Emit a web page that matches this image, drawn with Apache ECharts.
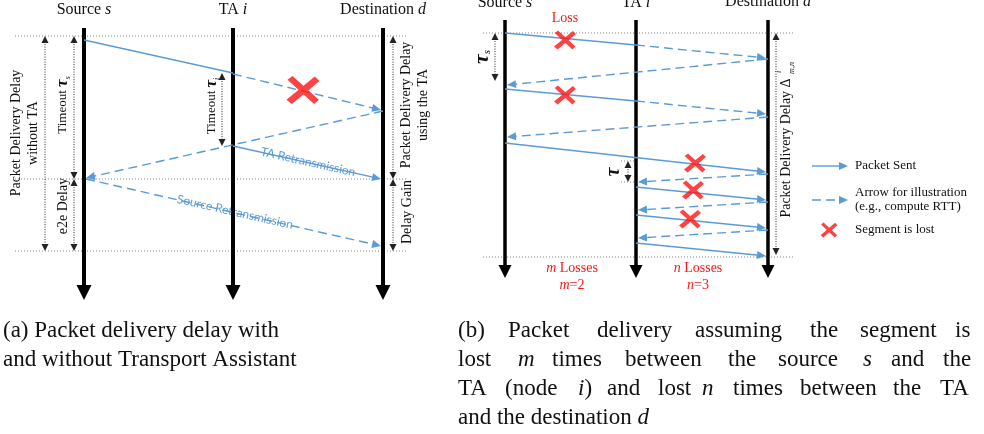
<!DOCTYPE html>
<html>
<head>
<meta charset="utf-8">
<script src="https://cdn.jsdelivr.net/npm/echarts@6.0.0/dist/echarts.min.js"></script>
<style>
  html, body { margin: 0; padding: 0; background: #fff; }
  #chart { width: 984px; height: 434px; }
</style>
</head>
<body>
<div id="chart"></div>
<script>
// 横轴 = 节点位置, 纵轴 = 时间 (向下增加), 单位与像素一致
// 节点时间线 [x, 起点t, x, 终点t]
const lifelinesA = [[84, 28, 84, 300], [233, 28, 233, 300], [383, 28, 383, 300]];
const lifelinesB = [[505, 20, 505, 278], [636, 20, 636, 278], [768, 20, 768, 278]];
// 实线发送段 (无箭头)
const sentSegments = [[84, 40, 233, 73], [505, 33, 636, 45], [505, 89, 636, 101]];
// 实线发送 (带箭头)
const sentArrows = [
  [233, 146, 381, 179],
  [505, 143, 766, 172], [636, 187, 766, 200], [636, 215, 766, 228], [636, 243, 766, 256],
  [812, 166, 848, 166]
];
// 虚线示意 (带箭头)
const dashArrows = [
  [233, 74, 381, 110], [383, 111, 86, 178], [86, 179, 381, 246],
  [636, 45, 766, 58], [768, 59, 507, 85], [636, 101, 766, 114], [768, 117, 507, 137],
  [768, 174, 638, 182], [768, 202, 638, 210], [768, 230, 638, 238],
  [812, 200, 848, 200]
];
// 点线参考线
const guideLines = [
  [15, 36, 408, 36], [15, 179, 408, 179], [15, 251, 408, 251],
  [483, 33, 793, 33], [483, 257, 793, 257], [621, 161, 636, 161], [621, 182, 636, 182]
];
// 双向箭头 (时间跨度)
const spans = [
  [45, 36, 45, 251], [74, 36, 74, 179], [74, 179, 74, 251], [222, 73, 222, 146],
  [393, 36, 393, 179], [393, 179, 393, 251],
  [495, 33, 495, 81], [628, 161, 628, 182], [776, 33, 776, 255]
];
// 丢包标记
const lossBig = [[303, 90]];
const lossSmall = [[565, 40], [565, 95], [695, 163], [693, 190], [690, 219]];
const lossKey = [[829, 230]];

const SERIF = 'Liberation Serif';
const BLUE = '#5b9bd5';
const RED = '#ff1414';
const CROSS = 'path://M5,12 L20,0 L98,76 L84,90 Z M86,2 L100,16 L18,90 L2,76 Z';

function arrowSeries(data, o) {
  return {
    type: 'custom', data: data, silent: true, animation: false,
    renderItem: function (params, api) {
      const a = api.coord([api.value(0), api.value(1)]);
      const b = api.coord([api.value(2), api.value(3)]);
      const dx = b[0] - a[0], dy = b[1] - a[1];
      const len = Math.hypot(dx, dy), ux = dx / len, uy = dy / len;
      const kids = [];
      let s = a, e = b;
      const head = (tip, vx, vy) => {
        const bx = tip[0] - vx * o.L, by = tip[1] - vy * o.L;
        return { type: 'polygon', shape: { points: [tip, [bx - vy * o.W, by + vx * o.W], [bx + vy * o.W, by - vx * o.W]] }, style: { fill: o.color } };
      };
      if (o.heads >= 1) { kids.push(head(b, ux, uy)); e = [b[0] - ux * o.L * 0.8, b[1] - uy * o.L * 0.8]; }
      if (o.heads === 2) { kids.push(head(a, -ux, -uy)); s = [a[0] + ux * o.L * 0.8, a[1] + uy * o.L * 0.8]; }
      kids.unshift({ type: 'line', shape: { x1: s[0], y1: s[1], x2: e[0], y2: e[1] },
        style: { stroke: o.color, lineWidth: o.width, lineDash: o.dash || null } });
      return { type: 'group', children: kids };
    }
  };
}

function crossSeries(data, size) {
  return { type: 'scatter', data: data, symbol: CROSS, symbolSize: size, silent: true, animation: false,
    itemStyle: { color: RED } };
}

// 文本
function rich(size, fam, color) {
  const c = color || '#111';
  return {
    n: { fontFamily: fam, fontSize: size, fill: c },
    i: { fontFamily: fam, fontSize: size, fontStyle: 'italic', fill: c },
    t: { fontFamily: SERIF, fontSize: size + 4, fontStyle: 'italic', fontWeight: 'bold', fill: c },
    s: { fontFamily: SERIF, fontSize: Math.round(size * 0.6), fontStyle: 'italic', fill: c, verticalAlign: 'bottom' }
  };
}
function T(x, y, text, o) {
  o = o || {};
  const size = o.size || 14, fam = o.fam || SERIF;
  return {
    type: 'text', x: x, y: y, rotation: o.rot || 0, silent: true,
    style: Object.assign({
      text: text, fontFamily: fam, fontSize: size, fill: o.color || '#111',
      align: o.align || 'center', verticalAlign: 'middle', lineHeight: o.lh,
      rich: rich(size, fam, o.color)
    }, o.style || {})
  };
}
const UP = Math.PI / 2;

const texts = [
  // (a)
  T(84, 10, '{n|Source }{i|s}', { size: 16 }),
  T(233, 10, '{n|TA }{i|i}', { size: 16 }),
  T(383, 10, '{n|Destination }{i|d}', { size: 16 }),
  T(25, 133, 'Packet Delivery Delay\nwithout TA', { rot: UP, lh: 17 }),
  T(63, 105, '{n|Timeout }{t|τ}{s|s}', { rot: UP, size: 13 }),
  T(63, 206, 'e2e Delay', { rot: UP }),
  T(212, 106, '{n|Timeout }{t|τ}{s|i}', { rot: UP, size: 13 }),
  T(415, 105, 'Packet Delivery Delay\nusing the TA', { rot: UP, lh: 17 }),
  T(407, 212, 'Delay Gain', { rot: UP }),
  T(308, 162, 'TA Retransmission', { rot: -Math.atan2(33, 148), size: 12, fam: 'Lato', color: BLUE,
    style: { backgroundColor: '#fff', padding: [0, 2] } }),
  T(235, 212, 'Source Retransmission', { rot: -Math.atan2(67, 295), size: 12, fam: 'Lato', color: BLUE,
    style: { backgroundColor: '#fff', padding: [0, 2] } }),
  // (b)
  T(505, 3, '{n|Source }{i|s}', { size: 16 }),
  T(636, 3, '{n|TA }{i|i}', { size: 16 }),
  T(768, 2, '{n|Destination }{i|d}', { size: 16 }),
  T(565, 18, 'Loss', { color: RED }),
  T(482, 57, '{t|τ}{s|s}', { rot: UP, size: 18 }),
  T(614, 172, '{t|τ}', { rot: UP, size: 16 }),
  T(786, 148, 'Packet Delivery Delay Δ', { rot: UP }),
  T(779, 72, 'i', { rot: UP, size: 8, style: { fontStyle: 'italic' } }),
  T(792, 68, 'm,n', { rot: UP, size: 8, style: { fontStyle: 'italic' } }),
  T(572, 268, '{i|m}{n| Losses}', { color: RED }),
  T(572, 285, '{i|m}{n|=2}', { color: RED }),
  T(698, 268, '{i|n}{n| Losses}', { color: RED }),
  T(698, 285, '{i|n}{n|=3}', { color: RED }),
  T(855, 166, 'Packet Sent', { align: 'left', size: 13 }),
  T(855, 193, 'Arrow for illustration', { align: 'left', size: 13 }),
  T(855, 207, '(e.g., compute RTT)', { align: 'left', size: 13 }),
  T(855, 230, 'Segment is lost', { align: 'left', size: 13 })
];

// 图注: (a) 左对齐整行, (b) 两端对齐逐词放置
const capA = ['(a) Packet delivery delay with', 'and without Transport Assistant'];
const capB = [
  [['(b)', 458], ['Packet', 508], ['delivery', 597], ['assuming', 695], ['the', 810], ['segment', 860], ['is', 955]],
  [['lost', 458], ['{i|m}', 518], ['times', 552], ['between', 625], ['the', 728], ['source', 778], ['{i|s}', 863], ['and', 891], ['the', 943]],
  [['TA', 458], ['(node', 505], ['{i|i}{n|)}', 578], ['and', 607], ['lost', 658], ['{i|n}', 702], ['times', 733], ['between', 800], ['the', 893], ['TA', 940]],
  [['{n|and the destination }{i|d}', 458]]
];
const CAP_SIZE = 23;
capA.forEach((line, k) => {
  texts.push(T(3, 331 + k * 29, '{n|' + line + '}', { align: 'left', size: CAP_SIZE }));
});
capB.forEach((line, k) => line.forEach(w => {
  texts.push(T(w[1], 331 + k * 29, w[0].indexOf('{') === 0 ? w[0] : '{n|' + w[0] + '}', { align: 'left', size: CAP_SIZE }));
}));

const chart = echarts.init(document.getElementById('chart'));
chart.setOption({
  backgroundColor: '#fff',
  animation: false,
  grid: { left: 0, right: 0, top: 0, bottom: 0 },
  xAxis: { type: 'value', min: 0, max: 984, show: false },
  yAxis: { type: 'value', min: 0, max: 434, inverse: true, show: false },
  graphic: { elements: texts },
  series: [
    arrowSeries(guideLines, { color: '#888', width: 1, dash: [1, 2], heads: 0 }),
    arrowSeries(spans, { color: '#222', width: 1, dash: [1, 1.5], heads: 2, L: 7, W: 3.5 }),
    arrowSeries(lifelinesA, { color: '#000', width: 4, heads: 1, L: 15, W: 7.5 }),
    arrowSeries(lifelinesB, { color: '#000', width: 3.5, heads: 1, L: 13, W: 6.5 }),
    arrowSeries(sentSegments, { color: BLUE, width: 1.4, heads: 0 }),
    arrowSeries(sentArrows, { color: BLUE, width: 1.4, heads: 1, L: 9, W: 4 }),
    arrowSeries(dashArrows, { color: BLUE, width: 1.4, dash: [9, 5], heads: 1, L: 9, W: 4 }),
    crossSeries(lossBig, [33, 28]),
    crossSeries(lossSmall, [22, 19]),
    crossSeries(lossKey, [17, 15])
  ]
});
</script>
</body>
</html>
